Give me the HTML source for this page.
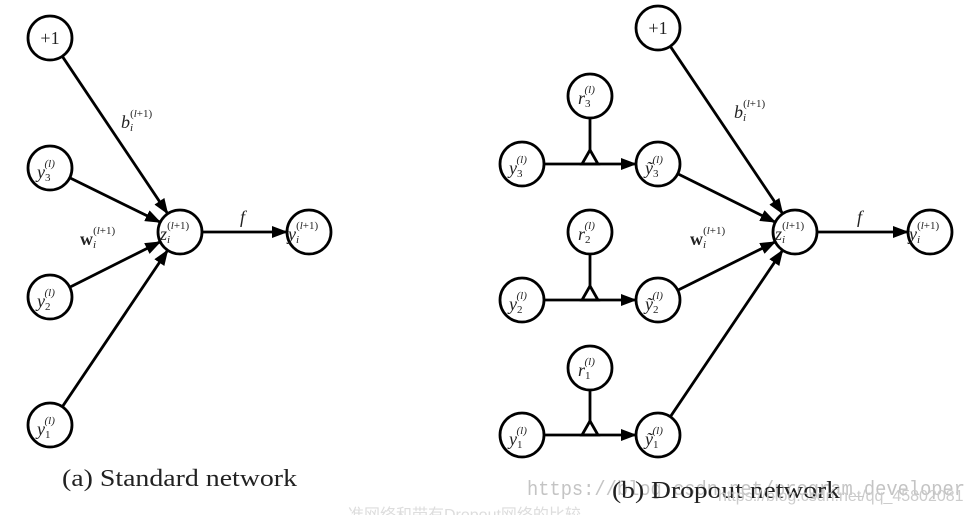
<!DOCTYPE html>
<html><head><meta charset="utf-8"><style>
html,body{margin:0;padding:0;background:#fff;width:968px;height:515px;overflow:hidden}
svg{display:block}
text{font-family:"Liberation Serif",serif;fill:#222}
.m{font-style:italic;font-size:18px}
.s{font-size:11px;font-style:normal}
.si{font-size:11px;font-style:italic}
.b{font-weight:bold;font-style:normal}
</style></head><body>
<svg width="968" height="515" viewBox="0 0 968 515" xmlns="http://www.w3.org/2000/svg">
<defs><marker id="a" markerWidth="16" markerHeight="12" refX="15" refY="6" orient="auto" markerUnits="userSpaceOnUse"><path d="M0,0 L16,6 L0,12 Z" fill="#000"/></marker></defs>
<g stroke="#000" stroke-width="2.8" fill="none">
<circle cx="50" cy="38" r="22"/><circle cx="50" cy="168" r="22"/><circle cx="50" cy="297" r="22"/><circle cx="50" cy="425" r="22"/>
<circle cx="180" cy="232" r="22"/><circle cx="309" cy="232" r="22"/>
<line x1="62.3" y1="56.3" x2="167.7" y2="213.7" marker-end="url(#a)"/>
<line x1="69.7" y1="177.7" x2="160.3" y2="222.3" marker-end="url(#a)"/>
<line x1="69.7" y1="287.2" x2="160.3" y2="241.8" marker-end="url(#a)"/>
<line x1="62.3" y1="406.8" x2="167.7" y2="250.2" marker-end="url(#a)"/>
<line x1="202" y1="232" x2="287" y2="232" marker-end="url(#a)"/>
<circle cx="658" cy="28" r="22"/>
<circle cx="590" cy="96" r="22"/><circle cx="590" cy="232" r="22"/><circle cx="590" cy="368" r="22"/>
<circle cx="522" cy="164" r="22"/><circle cx="522" cy="300" r="22"/><circle cx="522" cy="435" r="22"/>
<circle cx="658" cy="164" r="22"/><circle cx="658" cy="300" r="22"/><circle cx="658" cy="435" r="22"/>
<circle cx="795" cy="232" r="22"/><circle cx="930" cy="232" r="22"/>
<line x1="670.3" y1="46.3" x2="782.7" y2="213.7" marker-end="url(#a)"/>
<line x1="677.7" y1="173.8" x2="775.3" y2="222.2" marker-end="url(#a)"/>
<line x1="677.7" y1="290.2" x2="775.3" y2="241.8" marker-end="url(#a)"/>
<line x1="670.3" y1="416.8" x2="782.7" y2="250.2" marker-end="url(#a)"/>
<line x1="817" y1="232" x2="908" y2="232" marker-end="url(#a)"/>
<line x1="544" y1="164" x2="636" y2="164" marker-end="url(#a)"/>
<line x1="544" y1="300" x2="636" y2="300" marker-end="url(#a)"/>
<line x1="544" y1="435" x2="636" y2="435" marker-end="url(#a)"/>
<line x1="590" y1="118" x2="590" y2="150"/>
<line x1="590" y1="254" x2="590" y2="286"/>
<line x1="590" y1="390" x2="590" y2="421"/>
<path d="M582,164 L590,150 L598,164 Z"/>
<path d="M582,300 L590,286 L598,300 Z"/>
<path d="M582,435 L590,421 L598,435 Z"/>
</g>
<text x="50" y="44" font-size="18" text-anchor="middle">+1</text>
<text x="37" y="178" class="m">y<tspan class="s" dy="3">3</tspan><tspan class="si" dx="-6" dy="-14">(l)</tspan></text>
<text x="37" y="307" class="m">y<tspan class="s" dy="3">2</tspan><tspan class="si" dx="-6" dy="-14">(l)</tspan></text>
<text x="37" y="435" class="m">y<tspan class="s" dy="3">1</tspan><tspan class="si" dx="-6" dy="-14">(l)</tspan></text>
<text x="160" y="240" class="m">z<tspan class="si" dy="3">i</tspan><tspan class="s" dx="-3" dy="-14">(<tspan class="si">l</tspan>+1)</tspan></text>
<text x="288" y="240" class="m">y<tspan class="si" dy="3">i</tspan><tspan class="s" dx="-3" dy="-14">(<tspan class="si">l</tspan>+1)</tspan></text>
<text x="121" y="128" class="m">b<tspan class="si" dy="3">i</tspan><tspan class="s" dx="-3" dy="-14">(<tspan class="si">l</tspan>+1)</tspan></text>
<text x="80" y="245" class="m"><tspan class="b">w</tspan><tspan class="si" dy="3">i</tspan><tspan class="s" dx="-3" dy="-14">(<tspan class="si">l</tspan>+1)</tspan></text>
<text x="240" y="223" class="m">f</text>
<text x="62" y="486" font-size="24" textLength="235" lengthAdjust="spacingAndGlyphs">(a) Standard network</text>
<text x="658" y="34" font-size="18" text-anchor="middle">+1</text>
<text x="578" y="104" class="m">r<tspan class="s" dy="3">3</tspan><tspan class="si" dx="-6" dy="-14">(l)</tspan></text>
<text x="578" y="240" class="m">r<tspan class="s" dy="3">2</tspan><tspan class="si" dx="-6" dy="-14">(l)</tspan></text>
<text x="578" y="376" class="m">r<tspan class="s" dy="3">1</tspan><tspan class="si" dx="-6" dy="-14">(l)</tspan></text>
<text x="509" y="174" class="m">y<tspan class="s" dy="3">3</tspan><tspan class="si" dx="-6" dy="-14">(l)</tspan></text>
<text x="509" y="310" class="m">y<tspan class="s" dy="3">2</tspan><tspan class="si" dx="-6" dy="-14">(l)</tspan></text>
<text x="509" y="445" class="m">y<tspan class="s" dy="3">1</tspan><tspan class="si" dx="-6" dy="-14">(l)</tspan></text>
<text x="645" y="174" class="m">ỹ<tspan class="s" dy="3">3</tspan><tspan class="si" dx="-6" dy="-14">(l)</tspan></text>
<text x="645" y="310" class="m">ỹ<tspan class="s" dy="3">2</tspan><tspan class="si" dx="-6" dy="-14">(l)</tspan></text>
<text x="645" y="445" class="m">ỹ<tspan class="s" dy="3">1</tspan><tspan class="si" dx="-6" dy="-14">(l)</tspan></text>
<text x="775" y="240" class="m">z<tspan class="si" dy="3">i</tspan><tspan class="s" dx="-3" dy="-14">(<tspan class="si">l</tspan>+1)</tspan></text>
<text x="909" y="240" class="m">y<tspan class="si" dy="3">i</tspan><tspan class="s" dx="-3" dy="-14">(<tspan class="si">l</tspan>+1)</tspan></text>
<text x="734" y="118" class="m">b<tspan class="si" dy="3">i</tspan><tspan class="s" dx="-3" dy="-14">(<tspan class="si">l</tspan>+1)</tspan></text>
<text x="690" y="245" class="m"><tspan class="b">w</tspan><tspan class="si" dy="3">i</tspan><tspan class="s" dx="-3" dy="-14">(<tspan class="si">l</tspan>+1)</tspan></text>
<text x="857" y="223" class="m">f</text>
<text x="527" y="495" font-size="20" textLength="438" lengthAdjust="spacingAndGlyphs" style="fill:#c4c4c4;font-family:'Liberation Mono',monospace">https://blog.csdn.net/program_developer</text>
<text x="612" y="498" font-size="24" textLength="228" lengthAdjust="spacingAndGlyphs">(b) Dropout network</text>
<text x="718" y="501" font-size="16" style="fill:#ccc;font-family:'Liberation Sans',sans-serif">https://blog.csdn.net/qq_45802081</text>
<text x="348" y="520" font-size="16" style="fill:#ddd;font-family:'Liberation Sans','Noto Sans CJK SC',sans-serif">准网络和带有Dropout网络的比较</text>
</svg>
</body></html>
